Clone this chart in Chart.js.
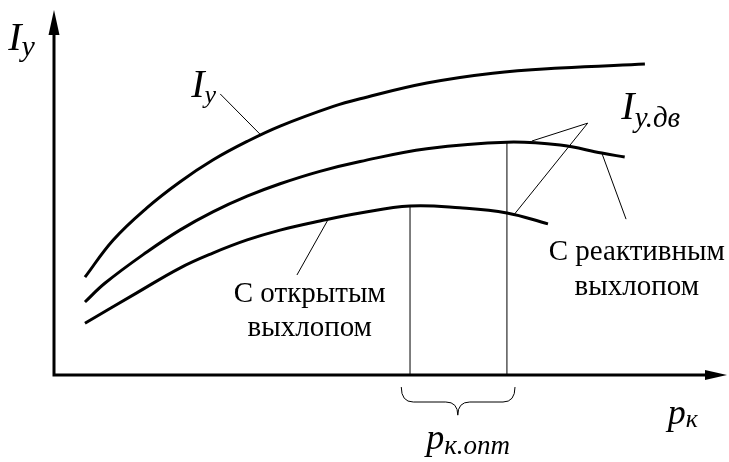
<!DOCTYPE html>
<html>
<head>
<meta charset="utf-8">
<script src="https://cdn.jsdelivr.net/npm/chart.js@4/dist/chart.umd.min.js"></script>
<style>
  html, body { margin: 0; padding: 0; background: #fff; }
  #wrap { position: relative; width: 729px; height: 462px; }
  #rotulos { position: absolute; left: 0; top: 0; width: 0; height: 0; }
  .rot {
    position: absolute;
    font-family: "Times New Roman", Tinos, "Liberation Serif", serif;
    line-height: 1;
    white-space: nowrap;
    color: #000;
  }
  .centro { transform: translateX(-50%); text-align: center; }
  .ind { position: relative; font-style: italic; }
</style>
</head>
<body>
<div id="wrap"><canvas id="grafico"></canvas><div id="rotulos"></div></div>
<script>
// p_k (x) e I_y (y) em unidades arbitrarias
const pkTotal = [0.46, 0.88, 1.38, 1.87, 2.36, 2.87, 3.36, 4.15, 4.55, 5.54, 6.52, 7.52, 8.78];
const iyTotal = [2.68, 3.70, 4.58, 5.29, 5.89, 6.40, 6.82, 7.36, 7.57, 8.00, 8.27, 8.41, 8.52];

const pkReativo = [0.46, 0.76, 1.38, 1.87, 2.36, 2.87, 3.36, 3.95, 4.55, 5.54, 6.73, 7.52, 8.14, 8.48];
const iyReativo = [2.00, 2.52, 3.37, 3.97, 4.47, 4.90, 5.24, 5.58, 5.85, 6.20, 6.38, 6.30, 6.08, 5.97];

const pkAberto = [0.46, 1.23, 1.87, 2.36, 2.87, 3.36, 3.95, 4.55, 5.29, 6.03, 6.73, 7.34];
const iyAberto = [1.42, 2.25, 2.93, 3.34, 3.70, 3.97, 4.22, 4.44, 4.63, 4.58, 4.44, 4.14];

// pressoes otimas (picos das curvas) e altura de cada pico
const pkOtimo = [5.29, 6.73];
const iyOtimo = [4.63, 6.38];

// linhas de chamada dos rotulos
const chamadaIy = [[2.47, 7.70], [3.06, 6.60]];
const chamadaIyDv = [[7.10, 6.41], [7.93, 6.90], [6.83, 4.38]];
const chamadaReativo = [[8.14, 6.08], [8.50, 4.27]];
const chamadaAberto = [[4.07, 4.25], [3.61, 2.74]];

const pontos = (xs, ys) => xs.map((x, i) => ({ x: x, y: ys[i] }));
const par = (lista) => lista.map(p => ({ x: p[0], y: p[1] }));

function curva(data) {
    return {
        data: data,
        borderColor: '#000',
        borderWidth: 3,
        borderCapStyle: 'butt',
        pointRadius: 0,
        tension: 0.4,
        fill: false,
        clip: false
    };
}

function fina(data) {
    return {
        data: data,
        borderColor: '#000',
        borderWidth: 1,
        pointRadius: 0,
        tension: 0,
        fill: false,
        clip: false
    };
}

// texto em HTML sobre o canvas; py e a linha de base
function rotulo(caixa, html, px, py, tam, centro) {
    const d = document.createElement('div');
    d.className = 'rot' + (centro ? ' centro' : '');
    d.style.left = px + 'px';
    d.style.top = (py - 0.8375 * tam) + 'px';
    d.style.fontSize = tam + 'px';
    d.innerHTML = html;
    caixa.appendChild(d);
}

function comIndice(principal, indice, tamSub, desce) {
    return '<i>' + principal + '</i><span class="ind" style="font-size:' + tamSub +
        'px;top:' + desce + 'px">' + indice + '</span>';
}

const desenhos = {
    id: 'desenhos',
    afterDraw(chart) {
        const ctx = chart.ctx;
        const sx = chart.scales.x, sy = chart.scales.y;
        const X = v => sx.getPixelForValue(v);
        const Y = v => sy.getPixelForValue(v);
        const x0 = X(0), y0 = Y(0), xFim = X(10), yFim = Y(10);

        ctx.save();
        ctx.fillStyle = '#000';
        ctx.strokeStyle = '#000';

        // eixos com setas
        ctx.lineWidth = 3;
        ctx.beginPath();
        ctx.moveTo(x0, y0 + 1.5);
        ctx.lineTo(x0, yFim + 20);
        ctx.moveTo(x0 - 1.5, y0);
        ctx.lineTo(xFim - 18, y0);
        ctx.stroke();
        ctx.beginPath();
        ctx.moveTo(x0, yFim);
        ctx.lineTo(x0 - 5.5, yFim + 25);
        ctx.lineTo(x0 + 5.5, yFim + 25);
        ctx.closePath();
        ctx.fill();
        ctx.beginPath();
        ctx.moveTo(xFim, y0);
        ctx.lineTo(xFim - 22, y0 - 5);
        ctx.lineTo(xFim - 22, y0 + 5);
        ctx.closePath();
        ctx.fill();

        // chave sob p_k.opt
        const bx1 = X(5.16), bx2 = X(6.85), bm = X(6.00);
        const bt = Y(-0.33), bmid = Y(-0.74), bp = Y(-1.10);
        ctx.lineWidth = 1;
        ctx.beginPath();
        ctx.moveTo(bx1, bt);
        ctx.quadraticCurveTo(bx1, bmid, bx1 + 12, bmid);
        ctx.lineTo(bm - 12, bmid);
        ctx.quadraticCurveTo(bm, bmid, bm, bp);
        ctx.quadraticCurveTo(bm, bmid, bm + 12, bmid);
        ctx.lineTo(bx2 - 12, bmid);
        ctx.quadraticCurveTo(bx2, bmid, bx2, bt);
        ctx.stroke();
        ctx.restore();

        // rotulos
        const caixa = document.getElementById('rotulos');
        caixa.innerHTML = '';
        rotulo(caixa, 'С реактивным', X(8.66), Y(3.15), 29, true);
        rotulo(caixa, 'выхлопом', X(8.66), Y(2.19), 29, true);
        rotulo(caixa, 'С открытым', X(3.80), Y(2.00), 29, true);
        rotulo(caixa, 'выхлопом', X(3.80), Y(1.07), 29, true);
        rotulo(caixa, comIndice('I', 'y', 30, 6), X(-0.68), Y(8.90), 40, false);
        rotulo(caixa, comIndice('I', 'y', 26, 6), X(2.04), Y(7.59), 40, false);
        rotulo(caixa, comIndice('I', 'у.дв', 29, 8), X(8.43), Y(7.01), 40, false);
        rotulo(caixa, comIndice('p', 'к', 26, 3), X(9.12), Y(-1.34), 36, false);
        rotulo(caixa, comIndice('p', 'к.опт', 27, 5), X(5.53), Y(-2.03), 36, false);
    }
};

new Chart(document.getElementById('grafico'), {
    type: 'line',
    data: {
        datasets: [
            curva(pontos(pkTotal, iyTotal)),
            curva(pontos(pkReativo, iyReativo)),
            curva(pontos(pkAberto, iyAberto)),
            fina([{ x: pkOtimo[0], y: 0 }, { x: pkOtimo[0], y: iyOtimo[0] }]),
            fina([{ x: pkOtimo[1], y: 0 }, { x: pkOtimo[1], y: iyOtimo[1] }]),
            fina(par(chamadaIy)),
            fina(par(chamadaIyDv)),
            fina(par(chamadaReativo)),
            fina(par(chamadaAberto))
        ]
    },
    options: {
        responsive: true,
        maintainAspectRatio: false,
        animation: false,
        layout: { padding: { left: 54, right: 2, top: 10, bottom: 87 } },
        scales: {
            x: { type: 'linear', min: 0, max: 10, display: false },
            y: { min: 0, max: 10, display: false }
        },
        plugins: {
            legend: { display: false },
            tooltip: { enabled: false }
        }
    },
    plugins: [desenhos]
});
</script>
</body>
</html>
